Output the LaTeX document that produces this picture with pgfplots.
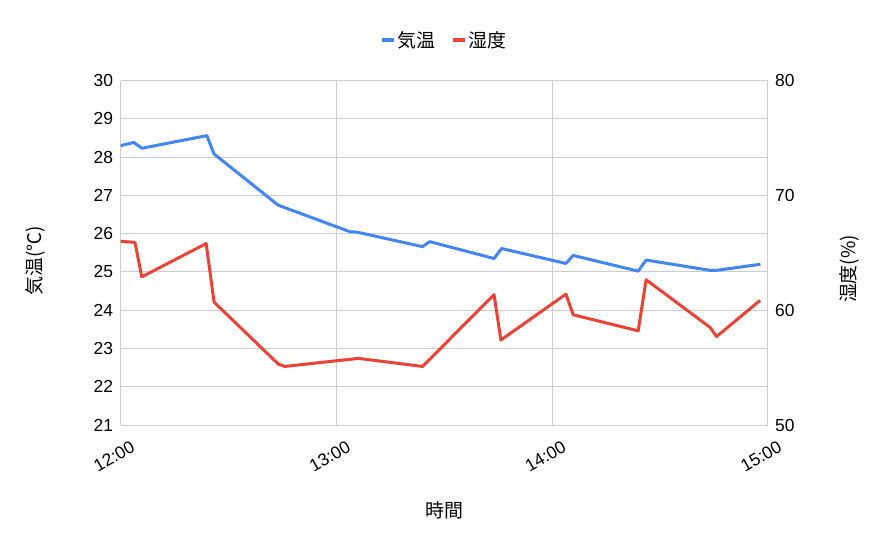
\documentclass[border=0pt]{standalone}
\usepackage{fontspec}
\setmainfont{Liberation Sans}
\newfontfamily\jp{Noto Sans CJK JP}
\usepackage{pgfplots}
\pgfplotsset{compat=1.18}
\definecolor{cblue}{HTML}{4285F4}
\definecolor{cred}{HTML}{EA4335}
\definecolor{cgrid}{HTML}{CCCCCC}
\pgfplotstableread{
m T
0 28.30
3.7 28.38
5.9 28.23
24 28.56
26 28.08
43.9 26.74
63.8 26.05
65.7 26.04
84 25.66
86 25.79
103.9 25.35
106 25.61
123.9 25.22
125.9 25.43
144 25.02
146.2 25.31
164 25.04
165.8 25.04
178 25.20
}\temp
\pgfplotstableread{
m H
0 66.0
4 65.9
5.9 62.9
23.8 65.8
26 60.7
43.9 55.3
45.7 55.1
66.1 55.8
84 55.1
103.9 61.35
105.8 57.4
123.9 61.4
125.9 59.6
144 58.2
146.2 62.65
164 58.5
165.8 57.7
177.9 60.85
}\hum
\begin{document}
\begin{tikzpicture}
\useasboundingbox (-120.6bp,-123bp) rectangle (767.4bp,425bp);
\pgfplotsset{
  every axis/.append style={
    scale only axis, width=647bp, height=344.5bp,
    at={(0,0)}, anchor=south west,
    xmin=0, xmax=180,
    major tick length=0pt,
    tick label style={font=\fontsize{17.5}{20}\selectfont},
    /pgf/number format/assume math mode=true,
    label style={font=\jp\fontsize{19}{22}\selectfont},
  }
}
\begin{axis}[
  ymin=21, ymax=30, ytick={21,22,...,30},
  xtick={0,60,120,180}, xticklabels={12:00,13:00,14:00,15:00},
  xticklabel style={rotate=30, anchor=east, xshift=4bp, yshift=-24bp},
  yticklabel style={xshift=-4bp},
  grid=major, grid style={cgrid, line width=0.8bp},
  axis line style={cgrid, line width=0.8bp},
  axis y line*=left, axis x line*=bottom,
  xlabel={時間}, ylabel={気温(℃)},
  xlabel style={at={(axis description cs:0.5,-0.247)}, anchor=center},
  ylabel style={at={(axis description cs:-0.132,0.476)}, anchor=center, rotate=0},
  legend style={at={(axis description cs:0.5,1.117)}, anchor=center, draw=none,
    legend columns=2, font=\jp\fontsize{19}{22}\selectfont,
    /tikz/every even column/.append style={column sep=14bp}},
  legend image code/.code={\draw[#1, line width=3.5bp] (0bp,0bp) -- (12bp,0bp);},
]
\addplot[cblue, line width=3bp, line join=round] table[x=m, y=T] {\temp};
\addlegendentry{気温}
\addlegendimage{cred, line width=3bp}
\addlegendentry{湿度}
\end{axis}
\begin{axis}[
  ymin=50, ymax=80, ytick={50,60,70,80},
  axis x line=none, axis y line*=right,
  axis line style={cgrid, line width=0.8bp},
  yticklabel style={xshift=4bp},
  ylabel={湿度(\%)},
  ylabel style={at={(axis description cs:1.126,0.453)}, anchor=center, rotate=0},
]
\addplot[cred, line width=3bp, line join=round] table[x=m, y=H] {\hum};
\end{axis}
\end{tikzpicture}
\end{document}
